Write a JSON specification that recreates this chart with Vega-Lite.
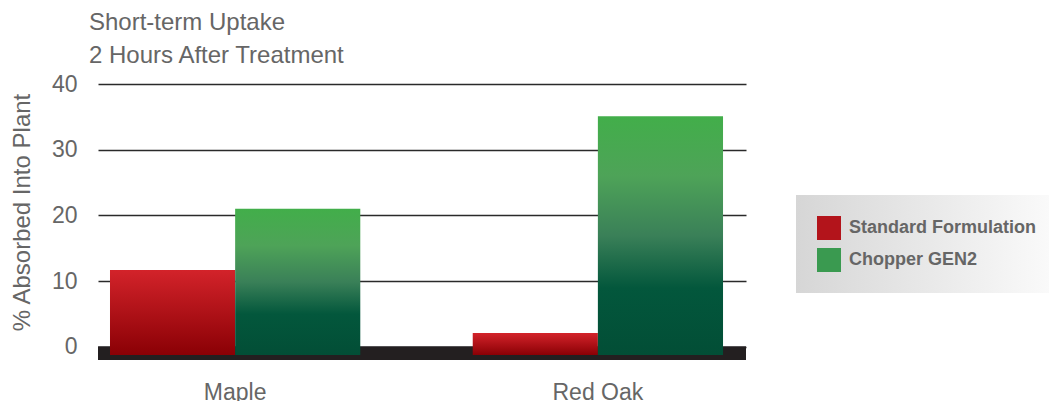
{
  "$schema": "https://vega.github.io/schema/vega-lite/v6.json",
  "width": 648,
  "height": 276,
  "autosize": {"type": "none"},
  "padding": {"left": 98, "top": 84, "right": 303, "bottom": 41},
  "background": "white",
  "title": {
    "text": ["Short-term Uptake", "2 Hours After Treatment"],
    "anchor": "start",
    "frame": "group",
    "offset": 5,
    "dx": -9,
    "font": "Liberation Sans",
    "fontSize": 24,
    "fontWeight": "normal",
    "color": "#666666",
    "lineHeight": 33
  },
  "data": {
    "values": [
      {"tree": "Maple", "series": "Standard Formulation", "value": 11.7},
      {"tree": "Maple", "series": "Chopper GEN2", "value": 21.0},
      {"tree": "Red Oak", "series": "Standard Formulation", "value": 2.1},
      {"tree": "Red Oak", "series": "Chopper GEN2", "value": 35.1}
    ]
  },
  "layer": [
    {
      "mark": {"type": "rect", "color": "#231f20"},
      "encoding": {
        "y": {"datum": 0, "type": "quantitative", "title": "% Absorbed Into Plant"},
        "y2": {"datum": -2}
      }
    },
    {
      "mark": {"type": "bar"},
      "encoding": {
        "x": {
          "field": "tree",
          "type": "nominal",
          "sort": ["Maple", "Red Oak"],
          "scale": {"paddingInner": 0.31, "paddingOuter": 0.0482, "align": 0.343},
          "axis": {
            "title": null,
            "labelAngle": 0,
            "domain": false,
            "ticks": false,
            "tickSize": 0,
            "labelPadding": 21,
            "labelFont": "Liberation Sans",
            "labelFontSize": 23,
            "labelColor": "#666666",
            "grid": false
          }
        },
        "xOffset": {
          "field": "series",
          "type": "nominal",
          "scale": {"domain": ["Standard Formulation", "Chopper GEN2"], "paddingInner": 0, "paddingOuter": 0}
        },
        "y": {
          "field": "value",
          "type": "quantitative",
          "title": "% Absorbed Into Plant",
          "scale": {"domain": [-2, 40], "nice": false, "zero": false},
          "axis": {
            "values": [0, 10, 20, 30, 40],
            "domain": false,
            "ticks": false,
            "tickSize": 0,
            "labelPadding": 21,
            "labelFont": "Liberation Sans",
            "labelFontSize": 23,
            "labelColor": "#666666",
            "grid": true,
            "gridColor": "#2a2a2a",
            "gridWidth": 1.5,
            "titleFont": "Liberation Sans",
            "titleFontSize": 24,
            "titleFontWeight": "normal",
            "titleColor": "#666666",
            "titleAngle": 270,
            "titleBaseline": "alphabetic",
            "titleX": -69,
            "titleY": 128
          }
        },
        "y2": {"datum": -1.23},
        "fill": {
          "condition": {
            "test": "datum.series === 'Standard Formulation'",
            "value": {"gradient": "linear", "x1": 0, "y1": 0, "x2": 0, "y2": 1,
              "stops": [{"offset": 0, "color": "#d3232a"}, {"offset": 1, "color": "#8a0005"}]}
          },
          "value": {"gradient": "linear", "x1": 0, "y1": 0, "x2": 0, "y2": 1,
            "stops": [{"offset": 0, "color": "#42ae4a"}, {"offset": 0.25, "color": "#4ea358"}, {"offset": 0.5, "color": "#3a8058"}, {"offset": 0.72, "color": "#03573c"}, {"offset": 1, "color": "#024e36"}]}
        }
      }
    },
    {
      "mark": {"type": "rect"},
      "encoding": {
        "x": {"field": "tree", "type": "nominal", "sort": ["Maple", "Red Oak"]},
        "xOffset": {"field": "series", "type": "nominal"},
        "y": {"datum": -1.5, "type": "quantitative"},
        "y2": {"datum": -1.5},
        "color": {
          "field": "series",
          "type": "nominal",
          "scale": {"domain": ["Standard Formulation", "Chopper GEN2"], "range": ["#b3141b", "#3a9a50"]},
          "legend": {
            "title": null,
            "orient": "none",
            "legendX": 698,
            "legendY": 111,
            "padding": 21,
            "rowPadding": 8,
            "symbolType": "square",
            "symbolSize": 576,
            "symbolStrokeWidth": 0,
            "labelOffset": 8,
            "labelFont": "Liberation Sans",
            "labelFontSize": 18,
            "labelFontWeight": "bold",
            "labelColor": "#666666",
            "labelLimit": 300,
            "fillColor": "#e6e6e6",
            "encode": {
              "symbols": {
                "update": {
                  "fill": {"signal": "datum.value === 'Standard Formulation' ? {gradient: 'linear', x1: 0, y1: 0, x2: 0, y2: 1, stops: [{offset: 0, color: '#c01a21'}, {offset: 1, color: '#8a0005'}]} : {gradient: 'linear', x1: 0, y1: 0, x2: 0, y2: 1, stops: [{offset: 0, color: '#46ad4e'}, {offset: 1, color: '#1c6a4a'}]}"}
                }
              },
              "legend": {
                "update": {
                  "fill": {"signal": "{gradient: 'linear', x1: 0, y1: 0, x2: 1, y2: 0, stops: [{offset: 0, color: '#d6d6d6'}, {offset: 1, color: '#fbfbfb'}]}"}
                }
              }
            }
          }
        }
      }
    }
  ],
  "config": {
    "view": {"stroke": null}
  }
}
